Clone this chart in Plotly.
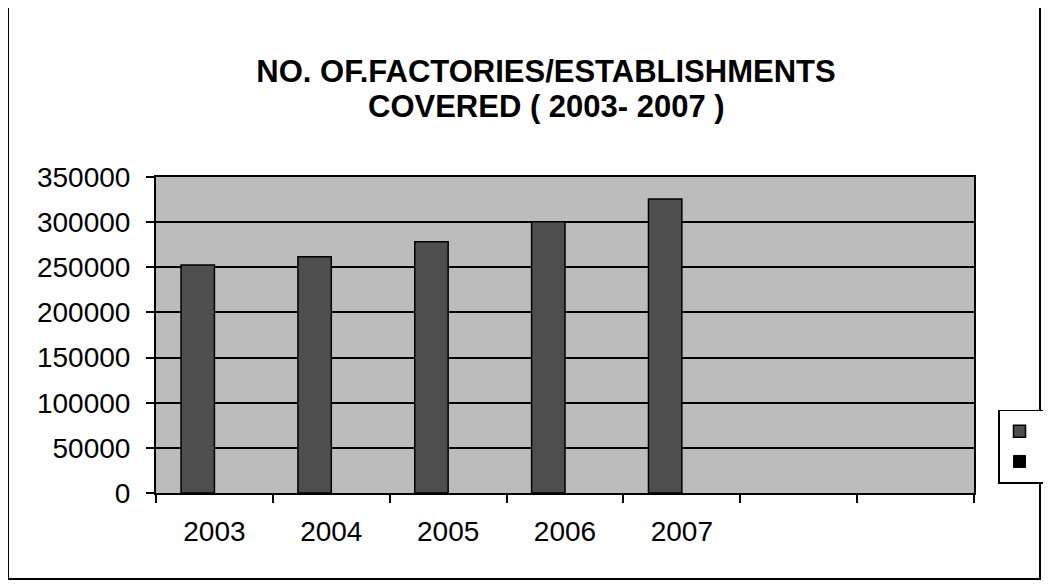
import plotly.graph_objects as go

categories = ["2003", "2004", "2005", "2006", "2007"]
series1 = [252500, 261700, 278300, 300500, 325600]
series2 = [None, None, None, None, None]
n_slots = 7
y_ticks = [0, 50000, 100000, 150000, 200000, 250000, 300000, 350000]
title_line1 = "NO. OF.FACTORIES/ESTABLISHMENTS"
title_line2 = "COVERED ( 2003- 2007 )"

x_centers = [i + 0.5 for i in range(len(categories))]

fig = go.Figure()
fig.add_trace(go.Bar(x=x_centers, y=series1, name=" ",
                     marker=dict(color="#4e4e4e", line=dict(color="black", width=1.5))))
fig.add_trace(go.Bar(x=x_centers, y=series2, name=" ",
                     marker=dict(color="black", line=dict(color="black", width=1))))

font_family = "Liberation Sans, Arial, sans-serif"
W, H = 1043, 576
L, T, PW, PH = 148, 169, 818, 316

fig.update_layout(
    width=W, height=H,
    paper_bgcolor="white", plot_bgcolor="#bcbcbc",
    margin=dict(l=L, r=W - L - PW, t=T, b=H - T - PH, autoexpand=False),
    barmode="group", bargap=1 - 2 / 3.5, bargroupgap=0,
    font=dict(family=font_family, color="black"),
    title=dict(text="<b>" + title_line1 + "</b>",
               font=dict(size=31, family=font_family, color="black"),
               x=538 / W, xanchor="center", xref="container",
               y=1 - 63 / H, yanchor="middle", yref="container"),
    showlegend=True,
    legend=dict(x=(990 - L) / PW, xanchor="left", y=(485 - 438.5) / PH, yanchor="middle",
                bordercolor="black", borderwidth=1.5, bgcolor="white",
                font=dict(size=21), itemwidth=30, tracegroupgap=0),
    xaxis=dict(range=[0, n_slots], tickvals=x_centers, ticktext=categories,
               ticks="", tickfont=dict(size=28), showgrid=False, zeroline=False,
               showline=True, linecolor="black", linewidth=2, mirror=True,
               ticklabelstandoff=12,
               minor=dict(tick0=0, dtick=1, ticks="outside", ticklen=8,
                          tickwidth=1.5, tickcolor="black", showgrid=False)),
    yaxis=dict(range=[0, 350000], tickvals=y_ticks, tickformat="d",
               ticks="outside", ticklen=8, tickwidth=1.5, tickcolor="black",
               tickfont=dict(size=28), showgrid=True, gridcolor="black", gridwidth=2,
               zeroline=False, showline=True, linecolor="black", linewidth=2, mirror=True,
               ticklabelstandoff=10),
)

fig.add_annotation(text="<b>" + title_line2 + "</b>", xref="paper", yref="paper",
                   x=(538 - L) / PW, y=(PH + T - 99) / PH, xanchor="center", yanchor="middle",
                   showarrow=False, font=dict(size=31, family=font_family, color="black"))

# outer chart border
fig.add_shape(type="rect", xref="paper", yref="paper",
              x0=(0 - L) / PW, x1=(1032 - L) / PW,
              y0=(PH + T - 571) / PH, y1=(PH + T + 1) / PH,
              line=dict(color="black", width=2), fillcolor="rgba(0,0,0,0)", layer="below")

fig.write_html("out.html")
